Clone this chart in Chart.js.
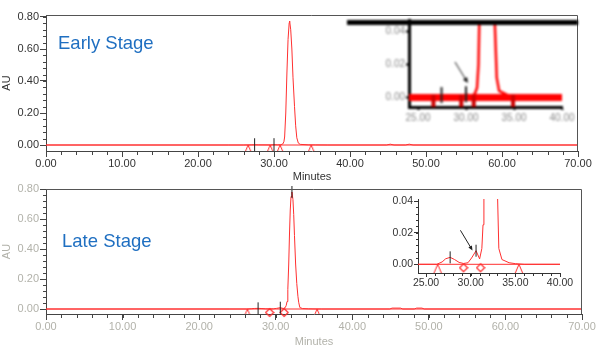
<!DOCTYPE html>
<html><head><meta charset="utf-8">
<script src="https://cdn.jsdelivr.net/npm/chart.js@4.4.1/dist/chart.umd.min.js"></script>
<style>
 html,body{margin:0;padding:0;background:#fff;}
 #wrap{position:relative;width:605px;height:353px;overflow:hidden;background:#fff;}
 canvas{position:absolute;}
 .stage{position:absolute;font-family:"Liberation Sans",Arial,sans-serif;font-size:18.5px;line-height:1;color:#1f6fc1;white-space:nowrap;z-index:5;}
</style></head><body>
<div id="wrap">
 <canvas id="cTop" width="605" height="184" style="left:0;top:0"></canvas>
 <canvas id="cTopInset" width="231" height="120" style="left:347px;top:10px;filter:blur(1.1px)"></canvas>
 <canvas id="cBot" width="605" height="169" style="left:0;top:180px"></canvas>
 <canvas id="cBotInset" width="200" height="100" style="left:380px;top:190px"></canvas>
 <div class="stage" style="left:58px;top:34px">Early Stage</div>
 <div class="stage" style="left:62px;top:232px">Late Stage</div>
</div>
<script>
// ---------- data (minutes, AU) ----------
const earlyTime = [0, 24, 26.0, 27.0, 27.45, 28.0, 29.5, 30.0, 30.5, 30.9, 31.15, 31.3, 31.4, 31.55, 31.7, 31.85, 32.0, 32.06, 32.2, 32.35, 32.5, 32.7, 32.85, 33.0, 33.2, 33.45, 34.5, 35.5, 37, 44.8, 45.3, 45.8, 47.3, 47.8, 48.3, 70];
const earlyAU   = [0, 0, 0, 0.0008, 0.0015, 0.0008, 0.0004, 0.002, 0.001, 0.002, 0.006, 0.02, 0.05, 0.2, 0.45, 0.66, 0.765, 0.775, 0.72, 0.6, 0.42, 0.24, 0.12, 0.045, 0.012, 0.004, 0.001, 0.0005, 0, 0, 0.005, 0, 0, 0.005, 0, 0];
const earlyTriangleTime = [26.6, 29.5, 30.8, 34.9];
const earlyApexTime = [27.45, 30.0];
const earlyApexAU = [0.0015, 0.002];

const lateTime = [0, 24, 26.2, 26.8, 27.2, 27.7, 28.2, 28.7, 29.2, 29.7, 30.1, 30.6, 31.0, 31.25, 31.38, 31.48, 31.58, 31.7, 31.8, 31.9, 32.0, 32.12, 32.25, 32.35, 32.45, 32.6, 32.75, 32.9, 33.0, 33.15, 33.5, 34.3, 35.0, 36.0, 44.9, 45.2, 46.3, 46.6, 48.1, 48.4, 49.1, 49.4, 70];
const lateAU   = [0, 0, 0, 0.0015, 0.0035, 0.0044, 0.003, 0.0012, 0.0005, 0.001, 0.004, 0.0086, 0.0034, 0.01, 0.025, 0.05, 0.13, 0.3, 0.5, 0.66, 0.75, 0.78, 0.73, 0.63, 0.49, 0.3, 0.17, 0.085, 0.045, 0.01, 0.003, 0.001, 0.0004, 0, 0, 0.006, 0.006, 0, 0, 0.006, 0.006, 0, 0];
const lateTriangleTime = [26.3, 35.4];
const lateDiamondTime = [29.2, 31.1];
const lateApexTime = [27.7, 30.6, 32.12];
const lateApexAU = [0.0044, 0.0086, 0.78];

const baselineTime = [0, 70];
const baselineAU = [0, 0];
const arrowFrom = [28.85, 0.0215];
const arrowTo = [30.2, 0.0088];

const mainXTicks = [0, 10, 20, 30, 40, 50, 60, 70];
const mainYTicks = [0, 0.2, 0.4, 0.6, 0.8];
const insetXTicks = [25, 30, 35, 40];
const insetYTicks = [0, 0.02, 0.04];
const xTitle = 'Minutes';
const yTitle = 'AU';

// ---------- helpers ----------
Chart.defaults.font.family = '"Liberation Sans", Arial, sans-serif';
const pts = (xs, ys) => xs.map((x, i) => ({x: x, y: ys[i]}));
const atZero = xs => xs.map(x => ({x: x, y: 0}));

function img(w, h, draw) { const c = document.createElement('canvas'); c.width = w; c.height = h; draw(c.getContext('2d')); return c; }
const triImg = img(10, 20, g => { g.strokeStyle = '#ff2a2a'; g.lineWidth = 1; g.beginPath(); g.moveTo(1, 19.5); g.lineTo(5, 10); g.lineTo(9, 19.5); g.stroke(); });
const diaImg = img(10, 18, g => { g.strokeStyle = '#ff2a2a'; g.lineWidth = 1.2; g.beginPath(); g.moveTo(5, 8.5); g.lineTo(9, 12.5); g.lineTo(5, 16.5); g.lineTo(1, 12.5); g.closePath(); g.stroke(); });
const blockImg = img(6, 30, g => { g.fillStyle = '#cc0000'; g.fillRect(1, 12, 4, 16); });

function axis(o) {
  return {
    type: 'linear', position: o.position, min: o.min, max: o.max,
    afterFit: s => { if (s.isHorizontal()) s.height = o.size; else s.width = o.size; },
    afterBuildTicks: s => { s.ticks = o.ticks.map(v => ({value: v})); },
    border: {display: true, color: o.axisColor, width: o.axisWidth || 1},
    grid: {display: true, drawOnChartArea: false, drawTicks: true, tickLength: o.tickLen, tickWidth: o.tickWidth || 1, tickColor: o.axisColor, color: o.axisColor},
    ticks: {autoSkip: false, maxRotation: 0, minRotation: 0, padding: o.pad, color: o.labelColor, font: {size: o.fontSize}, callback: v => Number(v).toFixed(2)},
    title: {display: !!o.title, text: o.title || '', color: o.labelColor, font: {size: 11}, padding: 0}
  };
}

function framePlugin(color) {
  return {id: 'frame', afterDraw(chart) {
    const {ctx, chartArea: a} = chart;
    ctx.save(); ctx.strokeStyle = color; ctx.lineWidth = 1; ctx.beginPath();
    const t = Math.round(a.top) + 0.5, r = Math.round(a.right) - 0.5;
    ctx.moveTo(a.left, t); ctx.lineTo(r, t); ctx.lineTo(r, a.bottom); ctx.stroke(); ctx.restore();
  }};
}
function minorPlugin(o) {
  return {id: 'minor', afterDraw(chart) {
    const {ctx, chartArea: a, scales: {x, y}} = chart;
    ctx.save(); ctx.strokeStyle = o.color; ctx.lineWidth = 1; ctx.beginPath();
    const x0 = Math.ceil(x.min / o.xStep - 1e-9) * o.xStep;
    for (let i = 0; ; i++) { const v = x0 + i * o.xStep; if (v > x.max + 1e-9) break;
      const p = Math.round(x.getPixelForValue(v)) + 0.5; ctx.moveTo(p, a.bottom); ctx.lineTo(p, a.bottom + o.xLen); }
    for (let i = 0; ; i++) { const v = o.yStart + i * o.yStep; if (v > y.max + 1e-9) break;
      const p = Math.round(y.getPixelForValue(v)) + 0.5; ctx.moveTo(a.left - o.yLen, p); ctx.lineTo(a.left, p); }
    ctx.stroke(); ctx.restore();
  }};
}
function arrowPlugin(o) {
  return {id: 'arrow', afterDatasetsDraw(chart) {
    const {ctx, scales: {x, y}} = chart;
    const x1 = x.getPixelForValue(arrowFrom[0]), y1 = y.getPixelForValue(arrowFrom[1]);
    const x2 = x.getPixelForValue(arrowTo[0]), y2 = y.getPixelForValue(arrowTo[1]);
    const ang = Math.atan2(y2 - y1, x2 - x1), hl = o.head;
    ctx.save(); ctx.strokeStyle = o.color; ctx.fillStyle = o.color; ctx.lineWidth = o.width;
    ctx.beginPath(); ctx.moveTo(x1, y1); ctx.lineTo(x2 - Math.cos(ang) * hl * 0.7, y2 - Math.sin(ang) * hl * 0.7); ctx.stroke();
    ctx.beginPath(); ctx.moveTo(x2, y2);
    ctx.lineTo(x2 - hl * Math.cos(ang - 0.42), y2 - hl * Math.sin(ang - 0.42));
    ctx.lineTo(x2 - hl * Math.cos(ang + 0.42), y2 - hl * Math.sin(ang + 0.42));
    ctx.closePath(); ctx.fill(); ctx.restore();
  }};
}
const topBarPlugin = {id: 'topBar', afterDraw(chart) {
  const {ctx, chartArea: a} = chart; ctx.save(); ctx.fillStyle = '#000'; ctx.fillRect(0, a.top, chart.width, 5); ctx.restore();
}};

function build(id, o) {
  return new Chart(document.getElementById(id), {
    type: 'line',
    data: {datasets: o.datasets},
    options: {
      responsive: false, animation: false, devicePixelRatio: 1, events: [],
      layout: {padding: o.padding},
      plugins: {legend: {display: false}, tooltip: {enabled: false}},
      scales: {x: axis(Object.assign({position: 'bottom'}, o.x)), y: axis(Object.assign({position: 'left'}, o.y))}
    },
    plugins: o.plugins
  });
}

function sets(s) {
  const out = [];
  out.push({label: 'apex', data: pts(s.apexT, s.apexV), showLine: false, pointStyle: 'line', rotation: 90, pointRadius: s.tickR, pointBorderColor: '#222', pointBorderWidth: s.tickW, clip: false});
  if (s.diamonds) out.push({label: 'valley', data: atZero(s.diamonds), showLine: false, pointStyle: diaImg, pointRadius: 5, clip: false});
  out.push({label: 'start/end', data: atZero(s.tri), showLine: false, pointStyle: s.triStyle, pointRadius: 5, clip: 0});
  out.push({label: 'signal', data: pts(s.t, s.v), borderColor: s.lineColor, borderWidth: s.lineW, pointRadius: 0, clip: 0});
  out.push({label: 'baseline', data: pts(baselineTime, baselineAU), borderColor: s.lineColor, borderWidth: s.baseW, pointRadius: 0, clip: 0});
  return out;
}

// ---------- Early stage (top) ----------
const topLabel = '#333', topAxis = '#444';
build('cTop', {
  padding: {left: 0, top: 15, right: 27, bottom: 0},
  x: {min: 0, max: 70, ticks: mainXTicks, size: 33, tickLen: 6, pad: 0, axisColor: topAxis, labelColor: topLabel, fontSize: 11, title: xTitle},
  y: {min: -0.0375, max: 0.8125, ticks: mainYTicks, size: 46, tickLen: 6, pad: 1, axisColor: topAxis, labelColor: topLabel, fontSize: 11, title: yTitle},
  datasets: sets({apexT: earlyApexTime, apexV: earlyApexAU, tickR: 6.5, tickW: 1, tri: earlyTriangleTime, triStyle: triImg, t: earlyTime, v: earlyAU, lineColor: '#ff3030', lineW: 1, baseW: 1}),
  plugins: [framePlugin('#555'), minorPlugin({xStep: 2, yStep: 0.04, yStart: 0, xLen: 4, yLen: 3, color: topAxis})]
});

build('cTopInset', {
  padding: {left: 0, top: 5, right: 16, bottom: 0},
  x: {min: 24.06, max: 40, ticks: insetXTicks, size: 23, tickLen: 3, tickWidth: 2, pad: 2, axisColor: '#000', axisWidth: 3, labelColor: '#8a8a8a', fontSize: 10},
  y: {min: -0.0057, max: 0.0469, ticks: insetYTicks, size: 62, tickLen: 3, tickWidth: 2, pad: 1, axisColor: '#000', axisWidth: 3, labelColor: '#8a8a8a', fontSize: 10},
  datasets: sets({apexT: earlyApexTime, apexV: earlyApexAU, tickR: 8, tickW: 2, tri: earlyTriangleTime, triStyle: blockImg, t: earlyTime, v: earlyAU, lineColor: '#ff0000', lineW: 2.5, baseW: 7}),
  plugins: [arrowPlugin({color: '#111', width: 1, head: 6}), topBarPlugin]
});

// ---------- Late stage (bottom) ----------
const botLabel = '#b2b2aa', botAxis = '#444';
build('cBot', {
  padding: {left: 0, top: 9, right: 23, bottom: 0},
  x: {min: 0, max: 70, ticks: mainXTicks, size: 35, tickLen: 6, pad: 0, axisColor: botAxis, labelColor: botLabel, fontSize: 11, title: xTitle},
  y: {min: -0.0333, max: 0.8, ticks: mainYTicks, size: 46, tickLen: 6, pad: 1, axisColor: botAxis, labelColor: botLabel, fontSize: 11, title: yTitle},
  datasets: sets({apexT: lateApexTime, apexV: lateApexAU, tickR: 6, tickW: 1, diamonds: lateDiamondTime, tri: lateTriangleTime, triStyle: triImg, t: lateTime, v: lateAU, lineColor: '#ff3030', lineW: 1, baseW: 1}),
  plugins: [framePlugin('#555'), minorPlugin({xStep: 2, yStep: 0.04, yStart: 0, xLen: 4, yLen: 3, color: botAxis})]
});

build('cBotInset', {
  padding: {left: 0, top: 9, right: 20, bottom: 0},
  x: {min: 24.1, max: 40, ticks: insetXTicks, size: 17, tickLen: 4, pad: 0, axisColor: '#333', labelColor: '#333', fontSize: 10.5},
  y: {min: -0.0055, max: 0.0413, ticks: insetYTicks, size: 38, tickLen: 4, pad: 1, axisColor: '#333', labelColor: '#333', fontSize: 10.5},
  datasets: sets({apexT: lateApexTime, apexV: lateApexAU, tickR: 6, tickW: 1, diamonds: lateDiamondTime, tri: lateTriangleTime, triStyle: triImg, t: lateTime, v: lateAU, lineColor: '#ff3030', lineW: 1, baseW: 1}),
  plugins: [arrowPlugin({color: '#222', width: 1, head: 5}), minorPlugin({xStep: 1, yStep: 0.004, yStart: 0, xLen: 3, yLen: 2, color: '#333'})]
});
</script>
</body></html>
